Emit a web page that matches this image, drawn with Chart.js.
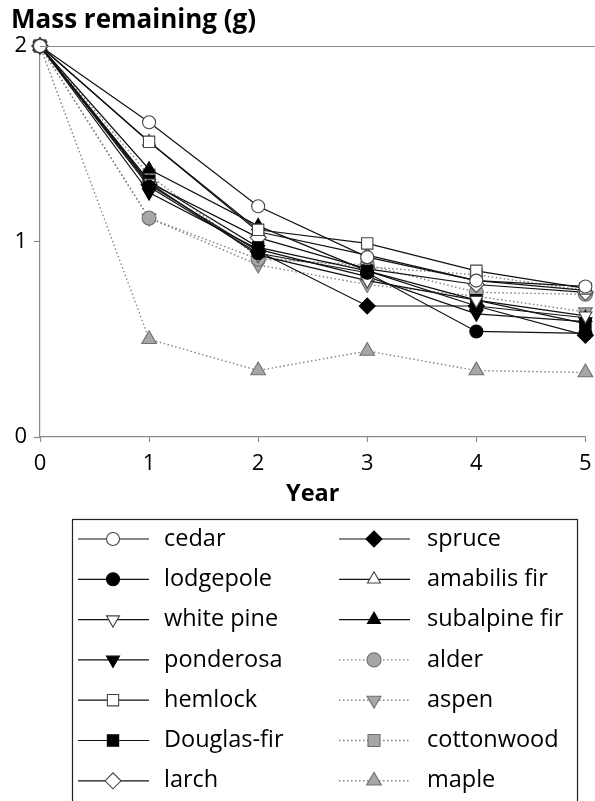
<!DOCTYPE html>
<html>
<head>
<meta charset="utf-8">
<script src="https://cdn.jsdelivr.net/npm/chart.js@4.4.0/dist/chart.umd.min.js"></script>
<style>
  html, body { margin: 0; padding: 0; background: #fff; }
  #wrap { width: 595px; height: 801px; }
</style>
</head>
<body>
<div id="wrap"><canvas id="decayChart" width="595" height="801"></canvas></div>
<script>
// values (mass remaining, g)
const years = [0, 1, 2, 3, 4, 5];
const yTicks = [0, 1, 2];

const cedar        = [2, 1.61, 1.18, 0.92, 0.80, 0.77];
const lodgepole    = [2, 1.28, 0.94, 0.84, 0.54, 0.53];
const whitePine    = [2, 1.30, 0.93, 0.80, 0.70, 0.62];
const ponderosa    = [2, 1.25, 0.96, 0.82, 0.63, 0.59];
const hemlock      = [2, 1.51, 1.06, 0.99, 0.85, 0.76];
const douglasFir   = [2, 1.31, 0.97, 0.85, 0.70, 0.58];
const larch        = [2, 1.30, 1.02, 0.86, 0.78, 0.74];
const spruce       = [2, 1.29, 0.95, 0.67, 0.67, 0.52];
const amabilisFir  = [2, 1.51, 1.05, 0.93, 0.80, 0.75];
const subalpineFir = [2, 1.37, 1.08, 0.85, 0.67, 0.61];
const alder        = [2, 1.12, 0.91, 0.88, 0.74, 0.73];
const aspen        = [2, 1.12, 0.88, 0.78, 0.72, 0.64];
const cottonwood   = [2, 1.34, 0.92, 0.87, 0.83, 0.75];
const maple        = [2, 0.50, 0.34, 0.44, 0.34, 0.33];

const species = ['cedar', 'lodgepole', 'white pine', 'ponderosa', 'hemlock', 'Douglas-fir', 'larch',
                 'spruce', 'amabilis fir', 'subalpine fir', 'alder', 'aspen', 'cottonwood', 'maple'];
const seriesValues = [cedar, lodgepole, whitePine, ponderosa, hemlock, douglasFir, larch,
                      spruce, amabilisFir, subalpineFir, alder, aspen, cottonwood, maple];

// marker / line look for each species (same order)
const FONT = '"Open Sans", "DejaVu Sans", sans-serif';
const WHITE = '#ffffff', BLACK = '#000000';
const GREY_FILL = '#a6a6a6', GREY_EDGE = '#707070';
const looks = [
  { shape: 'circle',   fill: WHITE,     edge: '#444', r: 6.5 },
  { shape: 'circle',   fill: BLACK,     edge: BLACK,  r: 6.5 },
  { shape: 'triangle', fill: WHITE,     edge: '#444', r: 7.5, rot: 180 },
  { shape: 'triangle', fill: BLACK,     edge: BLACK,  r: 7.5, rot: 180 },
  { shape: 'rect',     fill: WHITE,     edge: '#444', r: 8 },
  { shape: 'rect',     fill: BLACK,     edge: BLACK,  r: 8 },
  { shape: 'rectRot',  fill: WHITE,     edge: '#444', r: 8 },
  { shape: 'rectRot',  fill: BLACK,     edge: BLACK,  r: 8 },
  { shape: 'triangle', fill: WHITE,     edge: '#444', r: 7.5 },
  { shape: 'triangle', fill: BLACK,     edge: BLACK,  r: 7.5 },
  { shape: 'circle',   fill: GREY_FILL, edge: GREY_EDGE, r: 7, dotted: true },
  { shape: 'triangle', fill: GREY_FILL, edge: GREY_EDGE, r: 8, rot: 180, dotted: true },
  { shape: 'rect',     fill: GREY_FILL, edge: GREY_EDGE, r: 8.5, dotted: true },
  { shape: 'triangle', fill: GREY_FILL, edge: GREY_EDGE, r: 8.5, dotted: true }
];

const datasets = species.map((name, i) => {
  const lk = looks[i];
  return {
    label: name,
    data: years.map((yr, j) => ({ x: yr, y: seriesValues[i][j] })),
    borderColor: lk.dotted ? '#808080' : '#111111',
    borderWidth: lk.dotted ? 1.4 : 1.2,
    borderDash: lk.dotted ? [1.5, 2.5] : [],
    pointStyle: lk.shape,
    pointRotation: lk.rot || 0,
    pointRadius: lk.r,
    pointHoverRadius: lk.r,
    pointBackgroundColor: lk.fill,
    pointBorderColor: lk.edge,
    pointBorderWidth: 1.1,
    tension: 0,
    clip: false
  };
});

// legend: two columns, seven rows, drawn on the canvas
const boxedLegend = {
  id: 'boxedLegend',
  afterDraw(chart) {
    const ctx = chart.ctx;
    const yScale = chart.scales.y;
    const area = chart.chartArea;

    // top frame line at y = 2, running to the edge of the picture
    ctx.save();
    ctx.strokeStyle = '#8a8a8a';
    ctx.lineWidth = 1.2;
    ctx.beginPath();
    const yTop = Math.round(yScale.getPixelForValue(2)) + 0.5;
    ctx.moveTo(area.left, yTop);
    ctx.lineTo(chart.width, yTop);
    ctx.stroke();

    // legend frame
    ctx.strokeStyle = '#222';
    ctx.lineWidth = 1.2;
    ctx.strokeRect(72.5, 519.5, 505, 300);

    const perCol = 7;
    chart.data.datasets.forEach((ds, i) => {
      const col = Math.floor(i / perCol);
      const row = i % perCol;
      const mx = col ? 374 : 113;
      const y = 539 + row * 40.3;

      ctx.strokeStyle = ds.borderColor;
      ctx.lineWidth = ds.borderWidth;
      ctx.setLineDash(ds.borderDash);
      ctx.beginPath();
      ctx.moveTo(mx - 35, y);
      ctx.lineTo(mx + 36, y);
      ctx.stroke();
      ctx.setLineDash([]);

      ctx.fillStyle = ds.pointBackgroundColor;
      ctx.strokeStyle = ds.pointBorderColor;
      ctx.lineWidth = ds.pointBorderWidth;
      Chart.helpers.drawPoint(ctx, {
        pointStyle: ds.pointStyle,
        radius: ds.pointRadius,
        rotation: ds.pointRotation,
        borderWidth: ds.pointBorderWidth
      }, mx, y);

      ctx.fillStyle = BLACK;
      ctx.font = '23.5px ' + FONT;
      ctx.textAlign = 'left';
      ctx.textBaseline = 'middle';
      ctx.fillText(ds.label, col ? 427 : 164, y);
    });
    ctx.restore();
  }
};

new Chart(document.getElementById('decayChart'), {
  type: 'line',
  data: { datasets: datasets },
  options: {
    responsive: false,
    animation: false,
    events: [],
    layout: { padding: { left: 11, right: 0, top: 0, bottom: 291 } },
    scales: {
      x: {
        type: 'linear',
        min: 0,
        max: 5,
        afterBuildTicks: s => { s.ticks = years.map(v => ({ value: v })); },
        afterFit: s => { s.height = 73; s.paddingRight = 8; },
        ticks: { color: BLACK, font: { family: FONT, size: 22 }, padding: 9 },
        grid: { drawOnChartArea: false, drawTicks: true, tickLength: 5, tickColor: '#8a8a8a', tickWidth: 1.2 },
        border: { color: '#8a8a8a', width: 1.2 },
        title: {
          display: true,
          text: 'Year',
          color: BLACK,
          font: { family: FONT, size: 23.5, weight: 'bold' },
          padding: { top: 0, bottom: 2 }
        }
      },
      y: {
        min: 0,
        max: 2,
        afterBuildTicks: s => { s.ticks = yTicks.map(v => ({ value: v })); },
        afterFit: s => { s.width = 29; },
        ticks: { color: BLACK, font: { family: FONT, size: 22 }, padding: 7 },
        grid: { drawOnChartArea: false, drawTicks: true, tickLength: 6, tickColor: '#8a8a8a', tickWidth: 1.2 },
        border: { color: '#8a8a8a', width: 1.2 }
      }
    },
    plugins: {
      legend: { display: false },
      tooltip: { enabled: false },
      title: {
        display: true,
        text: 'Mass remaining (g)',
        align: 'start',
        color: BLACK,
        font: { family: FONT, size: 26, weight: 'bold' },
        padding: { top: 5, bottom: 9.8 }
      }
    }
  },
  plugins: [boxedLegend]
});
</script>
</body>
</html>
